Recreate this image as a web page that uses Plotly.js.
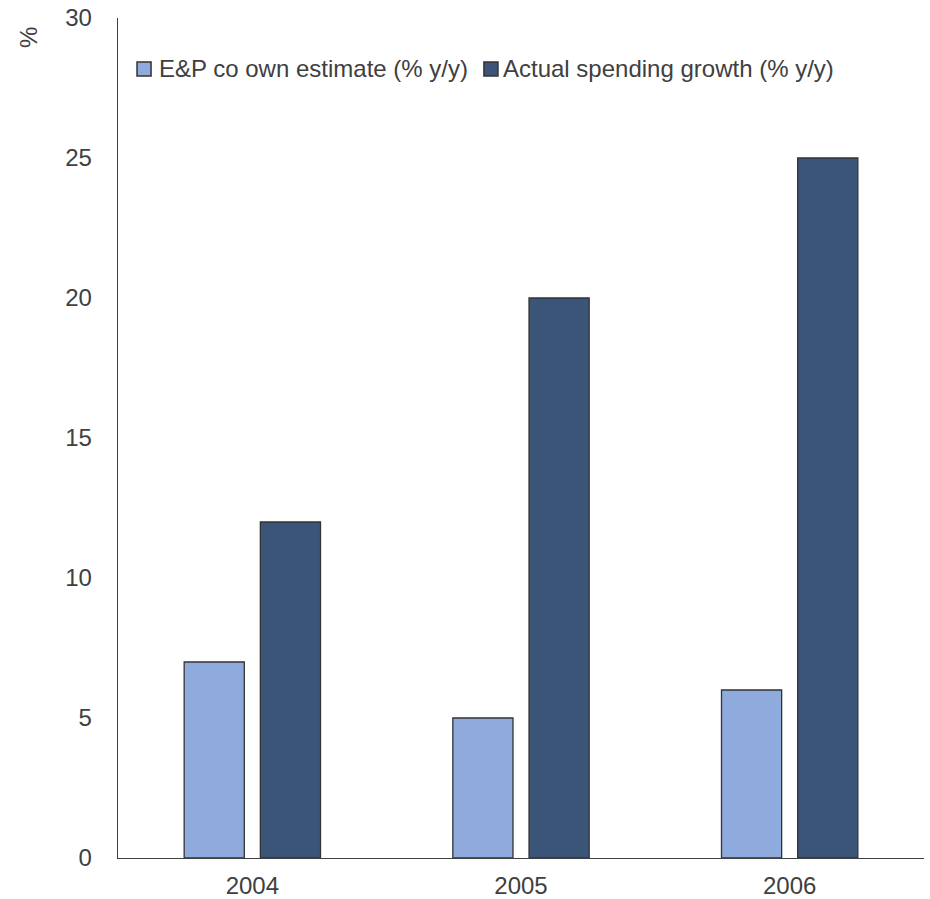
<!DOCTYPE html>
<html>
<head>
<meta charset="utf-8">
<script src="https://cdn.plot.ly/plotly-3.0.1.min.js"></script>
<style>
  html, body { margin: 0; padding: 0; background: #ffffff; }
  #chart { width: 930px; height: 899px; }
</style>
</head>
<body>
<div id="chart"></div>
<script>
// Capex growth: what E&P companies planned vs what they actually spent
const years = ['2004', '2005', '2006'];
const ownEstimate = [7, 5, 6];
const actualGrowth = [12, 20, 25];
const seriesNames = ['E&P co own estimate (% y/y)', 'Actual spending growth (% y/y)'];
const seriesColors = ['#8faadc', '#3b5578'];
const yTicks = [0, 5, 10, 15, 20, 25, 30];

const textColor = '#404040';
const outline = '#333333';
const fontFamily = 'Liberation Sans, Arial, sans-serif';
const fontSize = 24;

const traces = [ownEstimate, actualGrowth].map((vals, i) => ({
  type: 'bar',
  name: seriesNames[i],
  x: years,
  y: vals,
  marker: { color: seriesColors[i], line: { color: outline, width: 1.3 } },
  hoverinfo: 'skip',
  showlegend: false
}));

// Legend drawn as a key row along the top of the plot area
const keyRowY = 0.9393;
const keySwatches = [
  { x0: 0.0236, x1: 0.0410, textX: 0.0485 },
  { x0: 0.4540, x1: 0.4714, textX: 0.4751 }
];
const keyShapes = keySwatches.map((k, i) => ({
  type: 'rect',
  xref: 'paper',
  yref: 'paper',
  x0: k.x0,
  x1: k.x1,
  y0: keyRowY - 0.0083,
  y1: keyRowY + 0.0083,
  fillcolor: seriesColors[i],
  line: { color: outline, width: 1.5 }
}));
const keyLabels = keySwatches.map((k, i) => ({
  text: seriesNames[i],
  xref: 'paper',
  yref: 'paper',
  x: k.textX,
  y: keyRowY,
  xanchor: 'left',
  yanchor: 'middle',
  showarrow: false,
  font: { family: fontFamily, size: fontSize, color: textColor }
}));

const layout = {
  width: 930,
  height: 899,
  paper_bgcolor: '#ffffff',
  plot_bgcolor: '#ffffff',
  margin: { l: 118, r: 6, t: 18, b: 41 },
  font: { family: fontFamily, size: fontSize, color: textColor },
  barmode: 'group',
  bargap: 0.4328,
  bargroupgap: 0.2105,
  showlegend: false,
  xaxis: {
    type: 'category',
    showline: true,
    linecolor: '#404040',
    linewidth: 1.3,
    showgrid: false,
    zeroline: false,
    ticks: '',
    ticklabelstandoff: 6,
    tickfont: { family: fontFamily, size: fontSize, color: textColor }
  },
  yaxis: {
    range: [0, 30],
    tickvals: yTicks,
    ticktext: yTicks.map(String),
    showline: true,
    linecolor: '#404040',
    linewidth: 1.3,
    showgrid: false,
    zeroline: false,
    ticks: '',
    ticklabelstandoff: 20,
    tickfont: { family: fontFamily, size: fontSize, color: textColor }
  },
  shapes: keyShapes,
  annotations: [
    {
      text: '%',
      xref: 'paper',
      yref: 'paper',
      x: -0.1107,
      y: 0.977,
      xanchor: 'center',
      yanchor: 'middle',
      textangle: -90,
      showarrow: false,
      font: { family: fontFamily, size: fontSize, color: textColor }
    }
  ].concat(keyLabels)
};

Plotly.newPlot('chart', traces, layout, { displayModeBar: false, staticPlot: true });
</script>
</body>
</html>
